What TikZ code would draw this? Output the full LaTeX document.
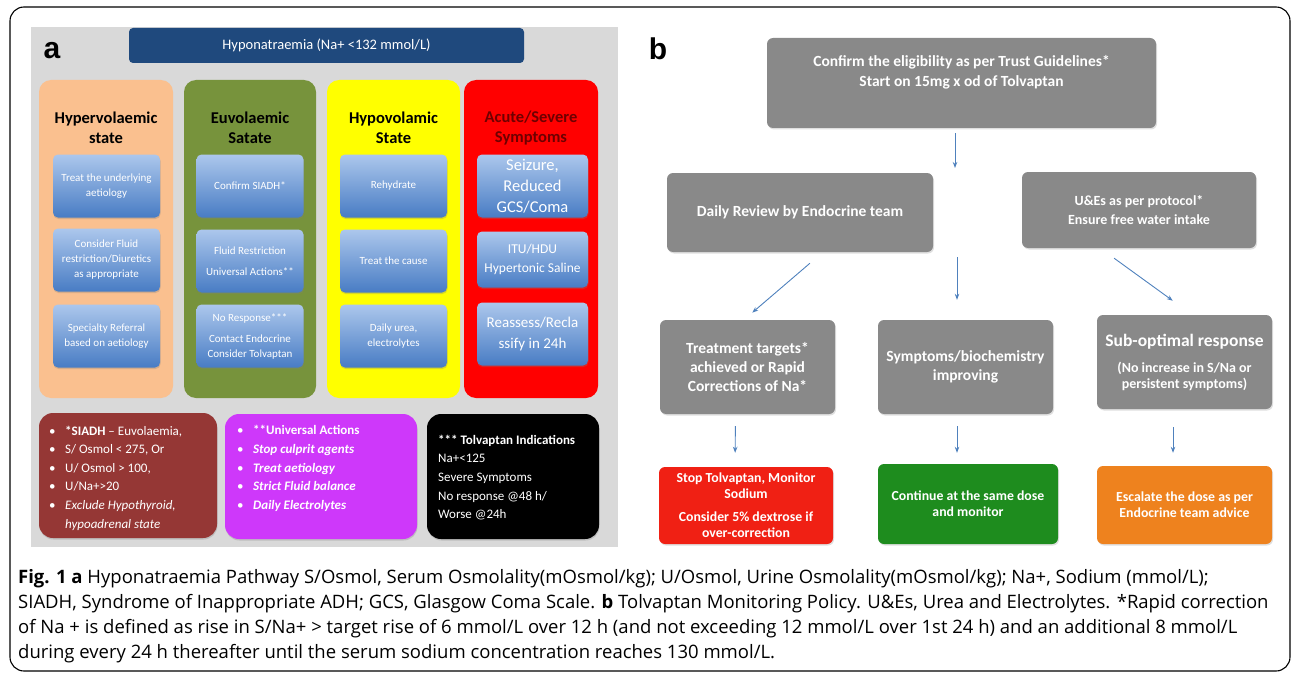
\documentclass[tikz,border=0pt]{standalone}
\usepackage{fontspec}
\setmainfont{Carlito}
\newfontfamily\capfont{Open Sans}
\newfontfamily\lblfont{Liberation Sans}
\usetikzlibrary{arrows.meta,shadows}

\definecolor{panelgray}{RGB}{217,217,217}
\definecolor{titleblue}{RGB}{31,73,125}
\definecolor{peach}{RGB}{250,192,143}
\definecolor{olive}{RGB}{119,147,60}
\definecolor{hypoyel}{RGB}{255,255,0}
\definecolor{acutered}{RGB}{255,0,0}
\definecolor{hdrred}{RGB}{110,0,0}
\definecolor{bluetop}{RGB}{172,199,236}
\definecolor{bluebot}{RGB}{72,124,196}
\definecolor{siadhbrown}{RGB}{149,55,53}
\definecolor{univmag}{RGB}{206,56,250}
\definecolor{boxgray}{RGB}{137,137,137}
\definecolor{stopred}{RGB}{240,32,20}
\definecolor{contgreen}{RGB}{30,140,30}
\definecolor{escorange}{RGB}{238,130,30}
\definecolor{arrblue}{RGB}{79,129,189}

\newcommand{\fsz}[2]{\fontsize{#1}{#2}\selectfont}

\tikzset{
  lbl/.style={font=\lblfont\bfseries\fsz{30}{32}, inner sep=0pt},
  col/.style={rounded corners=12pt, minimum height=318, inner sep=0pt},
  hdr/.style={font=\bfseries\fsz{16.5}{20}, align=center},
  bluebox/.style={rounded corners=5pt, top color=bluetop, bottom color=bluebot,
    text=white, align=center, minimum width=107, minimum height=63, inner sep=0pt,
    font=\fsz{11}{15}, drop shadow={opacity=0.3, shadow xshift=0.5pt, shadow yshift=-1.5pt}},
  bbox/.style={rounded corners=14pt, minimum height=125, inner sep=0pt,
    drop shadow={opacity=0.3, shadow xshift=0.5pt, shadow yshift=-1.5pt}},
  btxt/.style={text=white, align=left, inner sep=0pt, font=\fsz{13}{18.6}, anchor=west},
  gbox/.style={rounded corners=6pt, fill=boxgray, text=white, align=center, inner sep=0pt,
    font=\bfseries\fsz{15.5}{19}, drop shadow={opacity=0.25, shadow xshift=1pt, shadow yshift=-1.5pt}},
  obox/.style={rounded corners=6pt, text=white, align=center, inner sep=0pt,
    font=\bfseries\fsz{13.8}{16}, drop shadow={opacity=0.25, shadow xshift=1pt, shadow yshift=-1.5pt}},
  arr/.style={draw=arrblue, line width=0.9pt, -{Stealth[length=6pt,width=4.5pt]}},
  captxt/.style={font=\capfont\fsz{18.5}{25}, align=left, inner sep=0pt}
}

\begin{document}
\begin{tikzpicture}[x=1pt, y=-1pt]
\useasboundingbox (0,0) rectangle (1292,674);
\draw[line width=1.1pt, rounded corners=14pt] (10,7) rectangle (1290,671);

% panel a
\fill[panelgray] (31,27) rectangle (618,547);
\node[lbl] (lbla) at (52,51) {a};
\node[rounded corners=4pt, fill=titleblue, text=white, minimum width=395, minimum height=35,
  inner sep=0pt, font=\fsz{14.5}{17}] (hypo) at (326.5,45.5) {Hyponatraemia (Na+ <132 mmol/L)};

\node[col, fill=peach, minimum width=134] (hyper) at (106,239) {};
\node[col, fill=olive, minimum width=132] (euvo) at (250,239) {};
\node[col, fill=hypoyel, minimum width=133] (hypov) at (393.5,239) {};
\node[col, fill=acutered, minimum width=134] (acute) at (531,239) {};

\node[hdr] (hyperhd) at (106,128) {Hypervolaemic\\state};
\node[hdr] (euvohd) at (250,128) {Euvolaemic\\Satate};
\node[hdr] (hypovhd) at (393.5,128) {Hypovolamic\\State};
\node[hdr, text=hdrred] (acutehd) at (531,128) {Acute/Severe\\Symptoms};

\node[bluebox] (hyper1) at (106.5,186) {Treat the underlying\\aetiology};
\node[bluebox] (hyper2) at (106.5,260) {Consider Fluid\\restriction/Diuretics\\as appropriate};
\node[bluebox] (hyper3) at (106.5,336) {Specialty Referral\\based on aetiology};

\node[bluebox] (euvo1) at (250,186) {Confirm SIADH*};
\node[bluebox] (euvo2) at (250,261) {Fluid Restriction\\[6pt]Universal Actions**};
\node[bluebox] (euvo3) at (250,336) {No Response***\\[6pt]Contact Endocrine\\Consider Tolvaptan};

\node[bluebox] (hypov1) at (393.5,186) {Rehydrate};
\node[bluebox] (hypov2) at (393.5,261) {Treat the cause};
\node[bluebox] (hypov3) at (393.5,336) {Daily urea,\\electrolytes};

\node[bluebox, minimum width=111, font=\fsz{16.5}{21}] (acute1) at (532.5,186) {Seizure,\\Reduced\\GCS/Coma};
\node[bluebox, minimum width=111, minimum height=56, font=\fsz{13.5}{19}] (acute2) at (532.5,259.5) {ITU/HDU\\Hypertonic Saline};
\node[bluebox, minimum width=111, font=\fsz{15}{21}] (acute3) at (532.5,334) {Reassess/Recla\\ssify in 24h};

\node[bbox, fill=siadhbrown, minimum width=178] (siadh) at (128,475.5) {};
\node[btxt] (siadhtxt) at (49,478) {%
  \makebox[16pt][l]{\textbullet}\textbf{*SIADH} -- Euvolaemia,\\
  \makebox[16pt][l]{\textbullet}S/ Osmol < 275, Or\\
  \makebox[16pt][l]{\textbullet}U/ Osmol > 100,\\
  \makebox[16pt][l]{\textbullet}U/Na+>20\\
  \makebox[16pt][l]{\textbullet}\textit{Exclude Hypothyroid,}\\
  \hspace*{16pt}\textit{hypoadrenal state}};

\node[bbox, fill=univmag, minimum width=192] (univ) at (321,476.5) {};
\node[btxt] (univtxt) at (237,468.5) {%
  \makebox[16pt][l]{\textbullet}\textbf{**Universal Actions}\\
  \makebox[16pt][l]{\textbullet}\textbf{\textit{Stop culprit agents}}\\
  \makebox[16pt][l]{\textbullet}\textbf{\textit{Treat aetiology}}\\
  \makebox[16pt][l]{\textbullet}\textbf{\textit{Strict Fluid balance}}\\
  \makebox[16pt][l]{\textbullet}\textbf{\textit{Daily Electrolytes}}};

\node[bbox, fill=black, minimum width=172] (tolv) at (513,476.5) {};
\node[btxt] (tolvtxt) at (438,477.5) {%
  \textbf{*** Tolvaptan Indications}\\
  Na+<125\\
  Severe Symptoms\\
  No response @48 h/\\
  Worse @24h};

% panel b
\node[lbl] (lblb) at (658,49) {b};
\node[gbox, minimum width=389, minimum height=90] (elig) at (961.5,83) {};
\node[text=white, align=center, font=\bfseries\fsz{15.5}{20}] (eligtxt) at (961.5,72)
  {Confirm the eligibility as per Trust Guidelines*\\Start on 15mg x od of Tolvaptan};
\node[gbox, minimum width=266, minimum height=79, font=\bfseries\fsz{15.5}{19}] (review) at (800,212.5) {Daily Review by Endocrine team};
\node[gbox, minimum width=234, minimum height=76, font=\bfseries\fsz{14}{19}] (ue) at (1139,210) {U\&Es as per protocol*\\Ensure free water intake};

\node[gbox, minimum width=175, minimum height=94] (tgt) at (747.5,367) {Treatment targets*\\achieved or Rapid\\Corrections of Na*};
\node[gbox, minimum width=175, minimum height=94] (sym) at (965.5,367) {Symptoms/biochemistry\\improving};
\node[gbox, minimum width=175, minimum height=94, font=\bfseries\fsz{14}{16}] (sub) at (1184.5,362)
  {{\fsz{17.5}{19}Sub-optimal response}\\[10pt](No increase in S/Na or\\persistent symptoms)};

\node[obox, fill=stopred, minimum width=174, minimum height=77] (stop) at (746,505.5)
  {Stop Tolvaptan, Monitor\\Sodium\\[7pt]Consider 5\% dextrose if\\over-correction};
\node[obox, fill=contgreen, minimum width=180, minimum height=80] (cont) at (968,504) {Continue at the same dose\\and monitor};
\node[obox, fill=escorange, minimum width=175, minimum height=78] (esc) at (1184.5,505) {Escalate the dose as per\\Endocrine team advice};

\coordinate (split) at (955,168);
\coordinate (symtop) at (957,257);
\draw[arr, shorten <=5] ([xshift=-6.5pt]elig.south) -- (split);
\draw[arr, shorten <=17, shorten >=11] ([xshift=22.8pt]review.south) -- ([xshift=-3.6pt]tgt.north);
\draw[arr, shorten >=20] (symtop) -- ([xshift=-8.5pt]sym.north);
\draw[arr, shorten <=17, shorten >=24] ([xshift=-38.7pt]ue.south) -- ([xshift=7.7pt]sub.north);
\draw[arr, shorten <=12, shorten >=14] ([xshift=-12pt]tgt.south) -- ([xshift=-11pt]stop.north);
\draw[arr, shorten <=12, shorten >=11] ([xshift=-8.5pt]sym.south) -- ([xshift=-11pt]cont.north);
\draw[arr, shorten <=18, shorten >=13] ([xshift=-11.5pt]sub.south) -- ([xshift=-11.5pt]esc.north);

% caption
\node[captxt, anchor=north west] (cap) at (18,569) {\textbf{Fig. 1} \textbf{a} Hyponatraemia Pathway S/Osmol, Serum Osmolality(mOsmol/kg); U/Osmol, Urine Osmolality(mOsmol/kg); Na+, Sodium (mmol/L);\\
SIADH, Syndrome of Inappropriate ADH; GCS, Glasgow Coma Scale. \textbf{b} Tolvaptan Monitoring Policy. U\&Es, Urea and Electrolytes. *Rapid correction\\
of Na + is defined as rise in S/Na+ > target rise of 6 mmol/L over 12 h (and not exceeding 12 mmol/L over 1st 24 h) and an additional 8 mmol/L\\
during every 24 h thereafter until the serum sodium concentration reaches 130 mmol/L.};
\end{tikzpicture}
\end{document}
